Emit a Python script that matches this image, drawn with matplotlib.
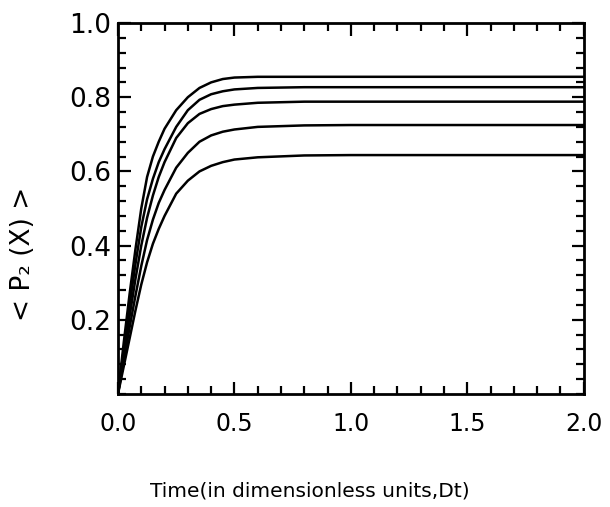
import matplotlib
matplotlib.use("Agg")
import matplotlib.pyplot as plt
from matplotlib.ticker import MultipleLocator

# Values (time grid shared by all curves)
t = [0, 0.025, 0.05, 0.075, 0.1, 0.125, 0.15, 0.175, 0.2, 0.25, 0.3, 0.35, 0.4, 0.45, 0.5, 0.6, 0.8, 1.0, 2.0]
y1 = [0, 0.14, 0.27, 0.39, 0.50, 0.585, 0.640, 0.680, 0.715, 0.765, 0.800, 0.825, 0.840, 0.849, 0.853, 0.855, 0.855, 0.855, 0.855]
y2 = [0, 0.12, 0.24, 0.35, 0.45, 0.525, 0.58, 0.625, 0.66, 0.72, 0.765, 0.793, 0.808, 0.816, 0.821, 0.825, 0.827, 0.827, 0.827]
y3 = [0, 0.105, 0.21, 0.31, 0.40, 0.475, 0.535, 0.585, 0.625, 0.69, 0.73, 0.755, 0.768, 0.776, 0.780, 0.785, 0.788, 0.788, 0.788]
y4 = [0, 0.09, 0.18, 0.265, 0.345, 0.415, 0.47, 0.515, 0.55, 0.61, 0.65, 0.68, 0.697, 0.707, 0.713, 0.72, 0.724, 0.725, 0.725]
y5 = [0, 0.075, 0.15, 0.225, 0.295, 0.355, 0.405, 0.445, 0.48, 0.54, 0.575, 0.60, 0.615, 0.625, 0.632, 0.638, 0.643, 0.644, 0.644]

series = [y1, y2, y3, y4, y5]

xticks = [0.0, 0.5, 1.0, 1.5, 2.0]
xticklabels = ["0.0", "0.5", "1.0", "1.5", "2.0"]
yticks = [0.2, 0.4, 0.6, 0.8, 1.0]
yticklabels = ["0.2", "0.4", "0.6", "0.8", "1.0"]

plt.rcParams['font.family'] = ['DejaVu Sans']

fig = plt.figure(figsize=(6.1, 5.07), dpi=100)
ax = fig.add_axes([0.1934, 0.2229, 0.7636, 0.7317])

for y in series:
    ax.plot(t, y, color='black', lw=1.8, solid_joinstyle='round')

ax.set_xlim(0, 2.0)
ax.set_ylim(0, 1.0)
ax.set_xticks(xticks)
ax.set_xticklabels(xticklabels)
ax.set_yticks(yticks)
ax.set_yticklabels(yticklabels)
ax.xaxis.set_minor_locator(MultipleLocator(0.1))
ax.yaxis.set_minor_locator(MultipleLocator(0.04))

ax.tick_params(which='both', direction='in', top=True, right=True, width=1.6, color='black')
ax.tick_params(which='major', length=9)
ax.tick_params(which='minor', length=6)
ax.tick_params(axis='x', which='major', labelsize=17, pad=13)
ax.tick_params(axis='y', which='major', labelsize=19, pad=5)

for s in ax.spines.values():
    s.set_linewidth(2.0)

ax.set_xlabel("Time(in dimensionless units,Dt)", fontsize=14.5)
ax.xaxis.set_label_coords(0.412, -0.237)
ax.set_ylabel("< P\u2082 (X) >", fontsize=19)
ax.yaxis.set_label_coords(-0.175, 0.377)

fig.savefig("out.png", dpi=100, facecolor='white')
